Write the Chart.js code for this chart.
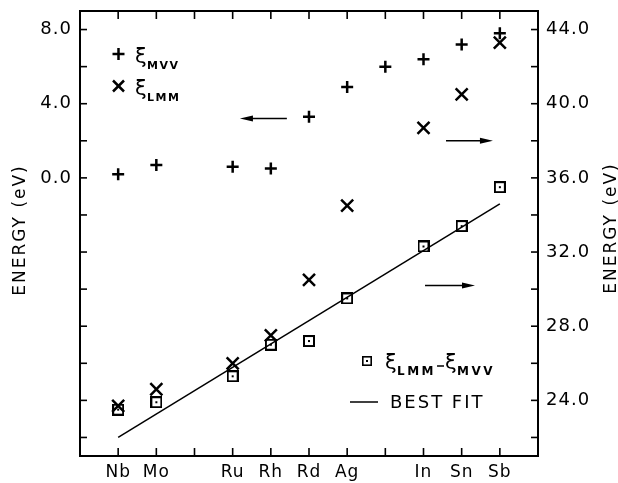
<!DOCTYPE html>
<html>
<head>
<meta charset="utf-8">
<script src="https://cdn.jsdelivr.net/npm/chart.js@4"></script>
<style>
  html, body { margin: 0; padding: 0; background: #fff; }
  #wrap { width: 618px; height: 483px; }
</style>
</head>
<body>
<div id="wrap"><canvas id="energyChart"></canvas></div>
<script>
// x axis: atomic number, only some elements labelled
var atomicNumbers = [41, 42, 43, 44, 45, 46, 47, 48, 49, 50, 51];
var elementLabels = ['Nb', 'Mo', '', 'Ru', 'Rh', 'Rd', 'Ag', '', 'In', 'Sn', 'Sb'];

// xi_MVV, left axis (eV)
var mvvZ = [41, 42, 44, 45, 46, 47, 48, 49, 50, 51];
var mvvVals = [0.2, 0.7, 0.6, 0.5, 3.3, 4.9, 6.0, 6.4, 7.2, 7.8];

// xi_LMM, right axis (eV)
var lmmZ = [41, 42, 44, 45, 46, 47, 49, 50, 51];
var lmmVals = [23.7, 24.6, 26.0, 27.5, 30.5, 34.5, 38.7, 40.5, 43.3];

// xi_LMM - xi_MVV, right axis (eV)
var diffZ = [41, 42, 44, 45, 46, 47, 49, 50, 51];
var diffVals = [23.5, 23.9, 25.3, 27.0, 27.2, 29.5, 32.3, 33.4, 35.5];

// best fit line end points, right axis
var fitZ = [41, 51];
var fitVals = [22.0, 34.6];

// tick marks and which of them carry a label
var leftTicks = [-14, -12, -10, -8, -6, -4, -2, 0, 2, 4, 6, 8];
var leftLabelled = [0, 4, 8];
var rightTicks = [22, 24, 26, 28, 30, 32, 34, 36, 38, 40, 42, 44];
var rightLabelled = [24, 28, 32, 36, 40, 44];

// annotation arrows in data units (head at z1)
var arrows = [
  { z0: 45.42, z1: 44.19, v: 3.2, axis: 'y' },
  { z0: 49.59, z1: 50.82, v: 38.0, axis: 'y2' },
  { z0: 49.04, z1: 50.35, v: 30.2, axis: 'y2' }
];

var FONT = "'DejaVu Sans', sans-serif";

function pts(xs, ys) {
  return xs.map(function(x, i) { return { x: x, y: ys[i] }; });
}

// square with a centre dot, used as point style
function makeBoxDot(size, lw) {
  var c = document.createElement('canvas');
  c.width = size; c.height = size;
  var g = c.getContext('2d');
  g.strokeStyle = '#000';
  g.fillStyle = '#000';
  g.lineWidth = lw;
  g.strokeRect(lw / 2, lw / 2, size - lw, size - lw);
  g.fillRect(size / 2 - 1, size / 2 - 1, 2, 2);
  return c;
}
var boxDot = makeBoxDot(12, 2);
var boxDotSmall = makeBoxDot(10, 1.6);

function line(ctx, x0, y0, x1, y1) {
  ctx.beginPath();
  ctx.moveTo(x0, y0);
  ctx.lineTo(x1, y1);
  ctx.stroke();
}

function xiLabel(ctx, x, y, sub, subSize, subSpacing) {
  ctx.font = '21px ' + FONT;
  ctx.letterSpacing = '0px';
  ctx.fillText('\u03be', x, y);
  ctx.font = 'bold ' + subSize + 'px ' + FONT;
  ctx.letterSpacing = subSpacing + 'px';
  ctx.fillText(sub, x + 12, y + 6);
  return x + 12 + ctx.measureText(sub).width;
}

// fixed axis sizes, no label overflow padding
function fixBox(w, h) {
  return function(s) {
    if (w) s.width = w;
    if (h) s.height = h;
    s.paddingTop = 0; s.paddingBottom = 0;
    s.paddingLeft = 0; s.paddingRight = 0;
  };
}

var framePlugin = {
  id: 'frame',
  beforeDraw: function(chart) {
    chart.ctx.letterSpacing = '1px';
  },
  afterDraw: function(chart) {
    var ctx = chart.ctx;
    var a = chart.chartArea;
    var sx = chart.scales.x, sl = chart.scales.y, sr = chart.scales.y2;
    ctx.save();
    ctx.strokeStyle = '#000';
    ctx.fillStyle = '#000';
    ctx.lineCap = 'butt';

    // frame
    ctx.lineWidth = 2;
    ctx.strokeRect(a.left, a.top, a.right - a.left, a.bottom - a.top);

    // inward ticks
    ctx.lineWidth = 1.6;
    atomicNumbers.forEach(function(z) {
      var px = sx.getPixelForValue(z);
      line(ctx, px, a.bottom, px, a.bottom - 8);
      line(ctx, px, a.top, px, a.top + 8);
    });
    leftTicks.forEach(function(v) {
      var py = sl.getPixelForValue(v);
      line(ctx, a.left, py, a.left + 7, py);
    });
    rightTicks.forEach(function(v) {
      var py = sr.getPixelForValue(v);
      line(ctx, a.right, py, a.right - 7, py);
    });

    // arrows
    ctx.lineWidth = 1.5;
    arrows.forEach(function(ar) {
      var sc = chart.scales[ar.axis];
      var x0 = sx.getPixelForValue(ar.z0), x1 = sx.getPixelForValue(ar.z1);
      var y = sc.getPixelForValue(ar.v);
      var dir = x1 > x0 ? 1 : -1;
      line(ctx, x0, y, x1 - dir * 10, y);
      ctx.beginPath();
      ctx.moveTo(x1, y);
      ctx.lineTo(x1 - dir * 13, y - 3);
      ctx.lineTo(x1 - dir * 13, y + 3);
      ctx.closePath();
      ctx.fill();
    });

    // axis titles
    ctx.font = '17px ' + FONT;
    ctx.letterSpacing = '2px';
    ctx.textAlign = 'center';
    ctx.textBaseline = 'alphabetic';
    [[25, 230], [616, 228]].forEach(function(p) {
      ctx.save();
      ctx.translate(p[0], p[1]);
      ctx.rotate(-Math.PI / 2);
      ctx.fillText('ENERGY (eV)', 0, 0);
      ctx.restore();
    });

    // legend, upper left
    ctx.textAlign = 'left';
    ctx.lineWidth = 2.5;
    line(ctx, 112.5, 54, 124.5, 54);
    line(ctx, 118.5, 48, 118.5, 60);
    xiLabel(ctx, 135, 63, 'MVV', 11, 1.5);
    line(ctx, 113, 80.5, 124, 91.5);
    line(ctx, 124, 80.5, 113, 91.5);
    xiLabel(ctx, 135, 95, 'LMM', 11, 1.5);

    // legend, lower right
    ctx.drawImage(boxDotSmall, 362, 356);
    var xe = xiLabel(ctx, 385, 369, 'LMM', 12, 2.5);
    ctx.lineWidth = 1.5;
    line(ctx, xe + 1, 366, xe + 8, 366);
    xiLabel(ctx, xe + 9, 369, 'MVV', 12, 2.5);
    line(ctx, 350, 402, 378, 402);
    ctx.font = '18px ' + FONT;
    ctx.letterSpacing = '2px';
    ctx.fillText('BEST FIT', 390, 408);

    ctx.restore();
    ctx.letterSpacing = '0px';
  }
};

var ctxMain = document.getElementById('energyChart').getContext('2d');
new Chart(ctxMain, {
  type: 'scatter',
  data: {
    datasets: [
      {
        type: 'line',
        label: 'best fit',
        data: pts(fitZ, fitVals),
        yAxisID: 'y2',
        borderColor: '#000',
        borderWidth: 1.5,
        pointRadius: 0,
        fill: false
      },
      {
        label: 'xi LMM - xi MVV',
        data: pts(diffZ, diffVals),
        yAxisID: 'y2',
        pointStyle: boxDot,
        pointRadius: 6
      },
      {
        label: 'xi MVV',
        data: pts(mvvZ, mvvVals),
        yAxisID: 'y',
        pointStyle: 'cross',
        pointRadius: 6,
        borderColor: '#000',
        borderWidth: 2.5
      },
      {
        label: 'xi LMM',
        data: pts(lmmZ, lmmVals),
        yAxisID: 'y2',
        pointStyle: 'crossRot',
        pointRadius: 8.5,
        borderColor: '#000',
        borderWidth: 2.5
      }
    ]
  },
  options: {
    responsive: true,
    maintainAspectRatio: false,
    animation: false,
    events: [],
    layout: { padding: { top: 5, left: 0, right: 0, bottom: 0 } },
    plugins: {
      legend: { display: false },
      tooltip: { enabled: false }
    },
    scales: {
      x: {
        type: 'linear',
        min: 40,
        max: 52,
        afterBuildTicks: function(axis) {
          axis.ticks = atomicNumbers.map(function(v) { return { value: v }; });
        },
        afterFit: fixBox(0, 27),
        ticks: {
          autoSkip: false,
          maxRotation: 0,
          padding: 6,
          color: '#000',
          font: { family: FONT, size: 17 },
          callback: function(v) {
            var i = atomicNumbers.indexOf(v);
            return i >= 0 ? elementLabels[i] : '';
          }
        },
        grid: { display: false, drawTicks: false },
        border: { display: false }
      },
      y: {
        position: 'left',
        min: -15,
        max: 9,
        afterBuildTicks: function(axis) {
          axis.ticks = leftTicks.map(function(v) { return { value: v }; });
        },
        afterFit: fixBox(80, 0),
        ticks: {
          autoSkip: false,
          padding: 8,
          color: '#000',
          font: { family: FONT, size: 18 },
          callback: function(v) {
            return leftLabelled.indexOf(v) >= 0 ? v.toFixed(1) : '';
          }
        },
        grid: { display: false, drawTicks: false },
        border: { display: false }
      },
      y2: {
        position: 'right',
        min: 21,
        max: 45,
        afterBuildTicks: function(axis) {
          axis.ticks = rightTicks.map(function(v) { return { value: v }; });
        },
        afterFit: fixBox(80, 0),
        ticks: {
          autoSkip: false,
          padding: 8,
          color: '#000',
          font: { family: FONT, size: 18 },
          callback: function(v) {
            return rightLabelled.indexOf(v) >= 0 ? v.toFixed(1) : '';
          }
        },
        grid: { display: false, drawTicks: false },
        border: { display: false }
      }
    }
  },
  plugins: [framePlugin]
});
</script>
</body>
</html>
